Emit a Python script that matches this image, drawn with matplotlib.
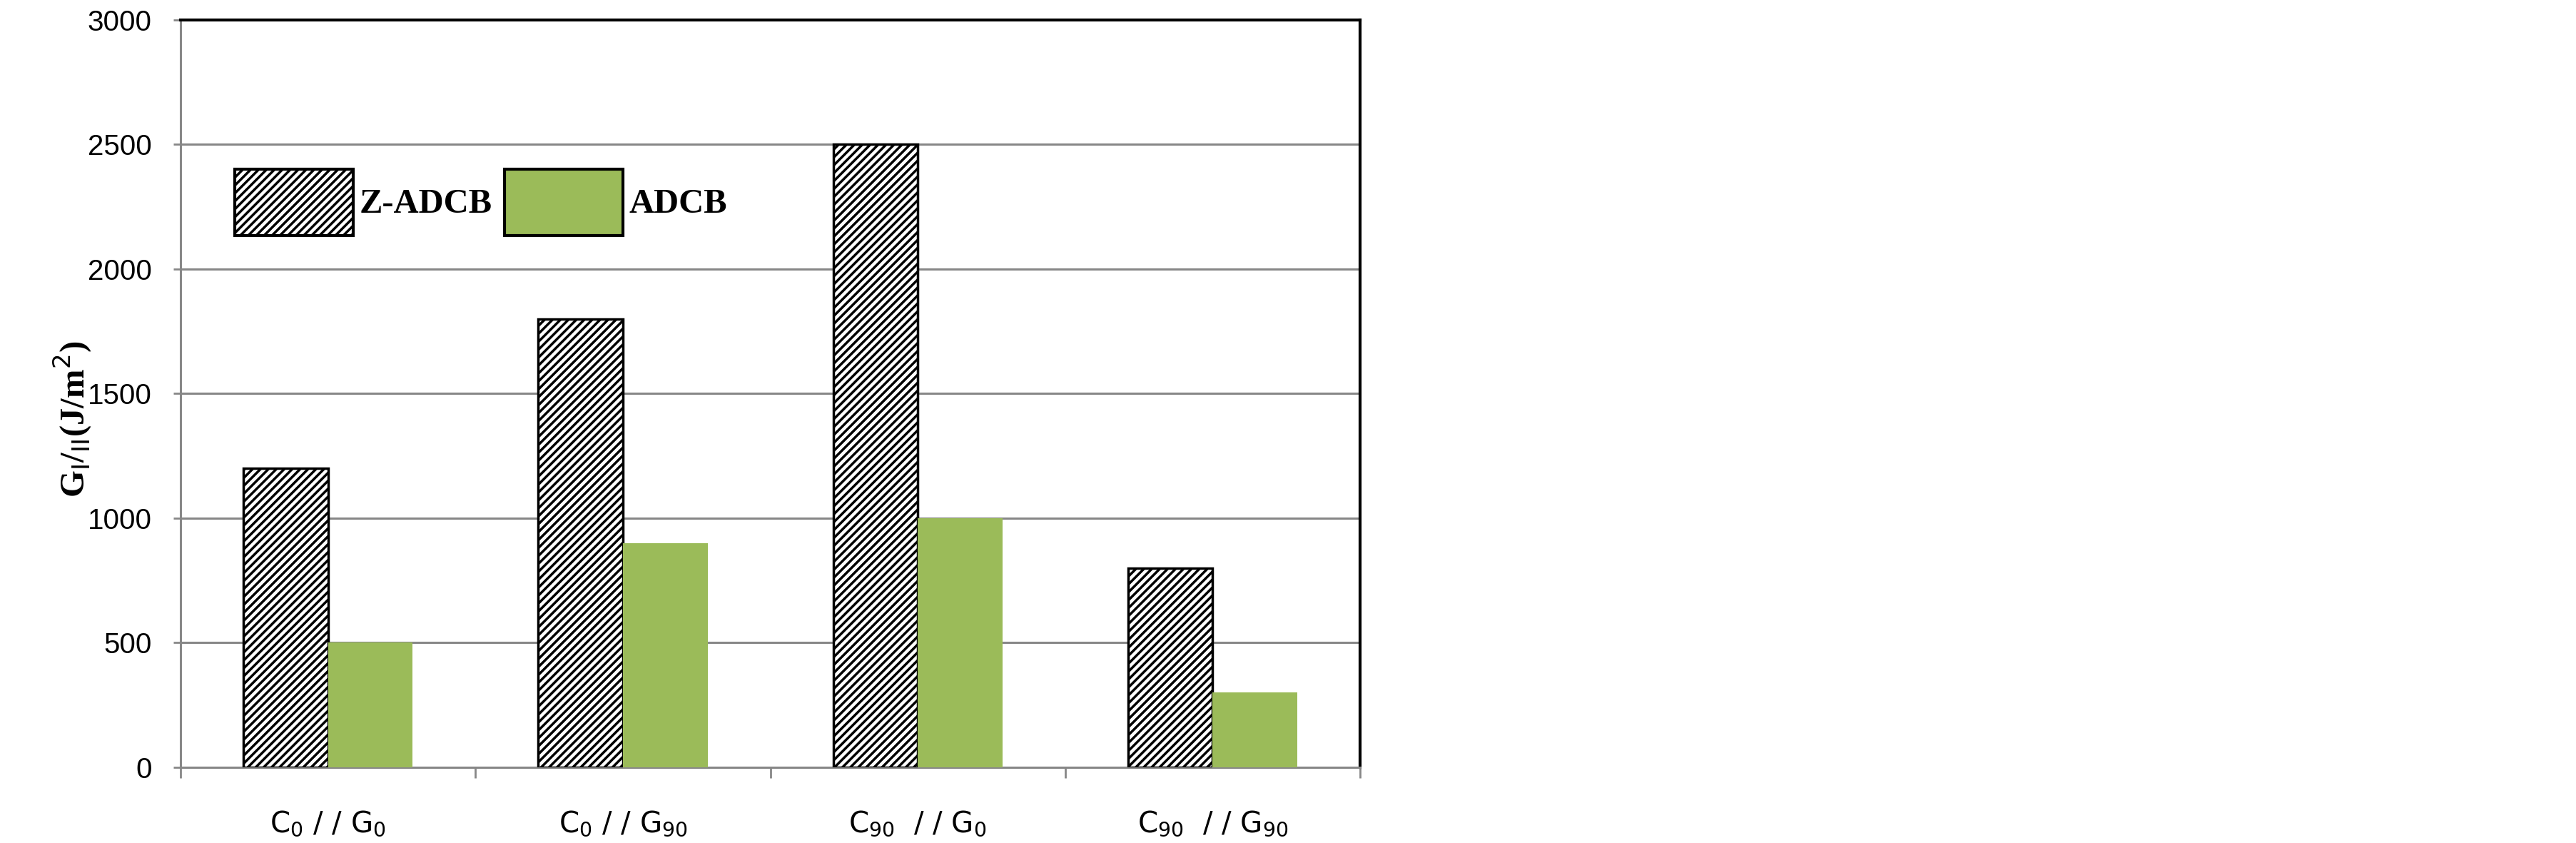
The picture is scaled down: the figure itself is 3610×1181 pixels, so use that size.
import numpy as np
import matplotlib.pyplot as plt
from matplotlib.ticker import FixedLocator

# Data
categories = ['C$_0$ / / G$_0$', 'C$_0$ / / G$_{90}$', 'C$_{90}$  / / G$_0$', 'C$_{90}$  / / G$_{90}$']
z_adcb = [1200, 1800, 2500, 800]
adcb = [500, 900, 1000, 300]
series_names = ['Z-ADCB', 'ADCB']
y_ticks = [0, 500, 1000, 1500, 2000, 2500, 3000]

plt.rcParams['hatch.linewidth'] = 2.5
plt.rcParams['mathtext.fontset'] = 'dejavusans'

fig = plt.figure(figsize=(36.10, 11.81), dpi=100)
ax = fig.add_axes([0.0701, 0.0898, 0.4579, 0.8865])

x = np.arange(len(categories))
width = 0.287

ax.bar(x - width / 2, z_adcb, width, color='white', edgecolor='black',
       hatch='///', linewidth=2.5, label=series_names[0], zorder=3)
ax.bar(x + width / 2, adcb, width, color='#9BBB59', edgecolor='none',
       label=series_names[1], zorder=3)

ax.set_xlim(-0.5, len(categories) - 0.5)
ax.set_ylim(0, 3000)
ax.set_yticks(y_ticks)
ax.yaxis.grid(True, color='#878787', linewidth=2.2, zorder=0)

# category labels at centres, tick marks at group boundaries
ax.set_xticks(x)
ax.set_xticklabels(categories, fontsize=29, family='DejaVu Sans')
ax.tick_params(axis='x', which='major', length=0, pad=42)
ax.xaxis.set_minor_locator(FixedLocator(np.arange(-0.5, len(categories), 1.0)))
ax.tick_params(axis='x', which='minor', length=11, width=2, color='#878787')
ax.tick_params(axis='y', length=7, width=2, color='#878787', pad=22)
for lbl in ax.get_yticklabels():
    lbl.set_family('Liberation Sans')
    lbl.set_fontsize(29)

for side in ['left', 'bottom']:
    ax.spines[side].set_color('#878787')
    ax.spines[side].set_linewidth(2.2)
for side in ['top', 'right']:
    ax.spines[side].set_color('black')
    ax.spines[side].set_linewidth(3)

ax.set_ylabel(r'G$_{\mathrm{I}}$/$_{\mathrm{II}}$(J/m$^{2}$)', fontsize=35,
              fontweight='bold', family='Liberation Serif')
ax.yaxis.set_label_coords(-0.074, 0.466)

leg = ax.legend(loc='upper left', bbox_to_anchor=(0.046, 0.80), ncol=2,
                frameon=False, borderpad=0, borderaxespad=0,
                handlelength=3.42, handleheight=2.55,
                handletextpad=0.16, columnspacing=0.37,
                prop={'family': 'Liberation Serif', 'size': 35, 'weight': 'bold'})
for h in leg.legend_handles:
    h.set_edgecolor('black')
    h.set_linewidth(3)

plt.savefig('out.png', dpi=100)
